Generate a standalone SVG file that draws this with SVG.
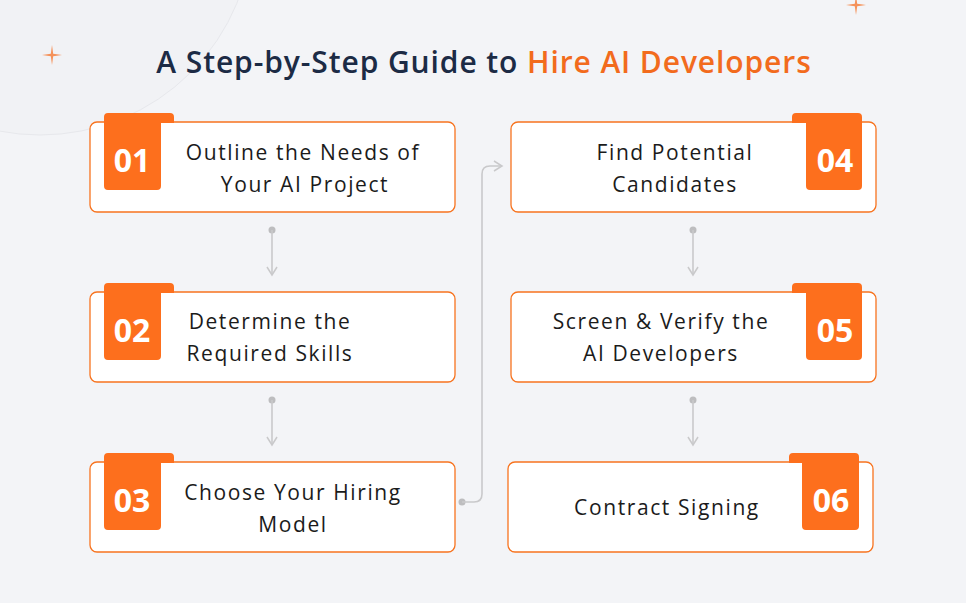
<svg xmlns="http://www.w3.org/2000/svg" width="966" height="603" viewBox="0 0 966 603">
<defs>
<style>
.box{fill:#fff;stroke:#f7731f;stroke-width:1.3}
.badge{fill:#fd6f1d}
.num{font-family:"Open Sans","Liberation Sans",sans-serif;font-weight:700;font-size:32px;fill:#fff;text-anchor:middle}
.lbl{font-family:"Open Sans","Lato",sans-serif;font-size:21px;fill:#1b1b1b;text-anchor:middle;letter-spacing:1.6px}
.con{fill:none;stroke:#c9c9cb;stroke-width:1.6}
.dot{fill:#bdbdbf}
.spark{fill:#f5925a}
</style>
<marker id="arr" viewBox="0 0 12 12" refX="10" refY="6" markerWidth="12" markerHeight="12" markerUnits="userSpaceOnUse" orient="auto">
<path d="M2,1 L10,6 L2,11" fill="none" stroke="#c9c9cb" stroke-width="1.5"/>
</marker>
</defs>
<rect width="966" height="603" fill="#f3f4f7"/>
<circle cx="40" cy="-78" r="213" fill="#f1f2f5" stroke="#e7e8ec" stroke-width="1"/>
<path class="spark" d="M52,45 L53.2,53.8 L62,55 L53.2,56.2 L52,65 L50.8,56.2 L42,55 L50.8,53.8 Z"/>
<path class="spark" d="M856,-5 L857.2,3.8 L866,5 L857.2,6.2 L856,15 L854.8,6.2 L846,5 L854.8,3.8 Z"/>
<text x="484" y="73" text-anchor="middle" font-family="'Open Sans',Lato,sans-serif" font-weight="600" font-size="30" letter-spacing="0.9" fill="#1c2b45">A Step-by-Step Guide to <tspan fill="#f26b1d">Hire AI Developers</tspan></text>

<g id="connectors">
<circle class="dot" cx="272" cy="230" r="3.5"/>
<path class="con" d="M272,230 V275" marker-end="url(#arr)"/>
<circle class="dot" cx="272" cy="400" r="3.5"/>
<path class="con" d="M272,400 V445" marker-end="url(#arr)"/>
<circle class="dot" cx="462" cy="502" r="3.5"/>
<path class="con" d="M462,502 H474 Q482,502 482,494 V174 Q482,166 490,166 H502" marker-end="url(#arr)"/>
<circle class="dot" cx="693" cy="230" r="3.5"/>
<path class="con" d="M693,230 V275" marker-end="url(#arr)"/>
<circle class="dot" cx="693" cy="400" r="3.5"/>
<path class="con" d="M693,400 V445" marker-end="url(#arr)"/>
</g>

<g id="step1">
<rect class="box" x="90" y="122" width="365" height="90" rx="7"/>
<path class="badge" d="M108,113 H170 Q174,113 174,117 V123 H161 V186 Q161,190 157,190 H108 Q104,190 104,186 V117 Q104,113 108,113 Z"/>
<text class="num" x="132" y="172">01</text>
<text class="lbl" x="303" y="160">Outline the Needs of</text>
<text class="lbl" x="305" y="192">Your AI Project</text>
</g>

<g id="step2">
<rect class="box" x="90" y="292" width="365" height="90" rx="7"/>
<path class="badge" d="M108,283 H170 Q174,283 174,287 V293 H161 V356 Q161,360 157,360 H108 Q104,360 104,356 V287 Q104,283 108,283 Z"/>
<text class="num" x="132" y="342">02</text>
<text class="lbl" x="270" y="329">Determine the</text>
<text class="lbl" x="270" y="361">Required Skills</text>
</g>

<g id="step3">
<rect class="box" x="90" y="462" width="365" height="90" rx="7"/>
<path class="badge" d="M108,453 H170 Q174,453 174,457 V463 H161 V526 Q161,530 157,530 H108 Q104,530 104,526 V457 Q104,453 108,453 Z"/>
<text class="num" x="132" y="512">03</text>
<text class="lbl" x="293" y="500">Choose Your Hiring</text>
<text class="lbl" x="293" y="532">Model</text>
</g>

<g id="step4">
<rect class="box" x="511" y="122" width="365" height="90" rx="7"/>
<path class="badge" d="M858,113 H796 Q792,113 792,117 V123 H806 V186 Q806,190 810,190 H858 Q862,190 862,186 V117 Q862,113 858,113 Z"/>
<text class="num" x="835" y="172">04</text>
<text class="lbl" x="675" y="160">Find Potential</text>
<text class="lbl" x="675" y="192">Candidates</text>
</g>

<g id="step5">
<rect class="box" x="511" y="292" width="365" height="90" rx="7"/>
<path class="badge" d="M858,283 H796 Q792,283 792,287 V293 H806 V356 Q806,360 810,360 H858 Q862,360 862,356 V287 Q862,283 858,283 Z"/>
<text class="num" x="835" y="342">05</text>
<text class="lbl" x="661" y="329">Screen &amp; Verify the</text>
<text class="lbl" x="661" y="361">AI Developers</text>
</g>

<g id="step6">
<rect class="box" x="508" y="462" width="365" height="90" rx="7"/>
<path class="badge" d="M855,453 H793 Q789,453 789,457 V463 H802 V526 Q802,530 806,530 H855 Q859,530 859,526 V457 Q859,453 855,453 Z"/>
<text class="num" x="831" y="512">06</text>
<text class="lbl" x="667" y="515">Contract Signing</text>
</g>
</svg>
